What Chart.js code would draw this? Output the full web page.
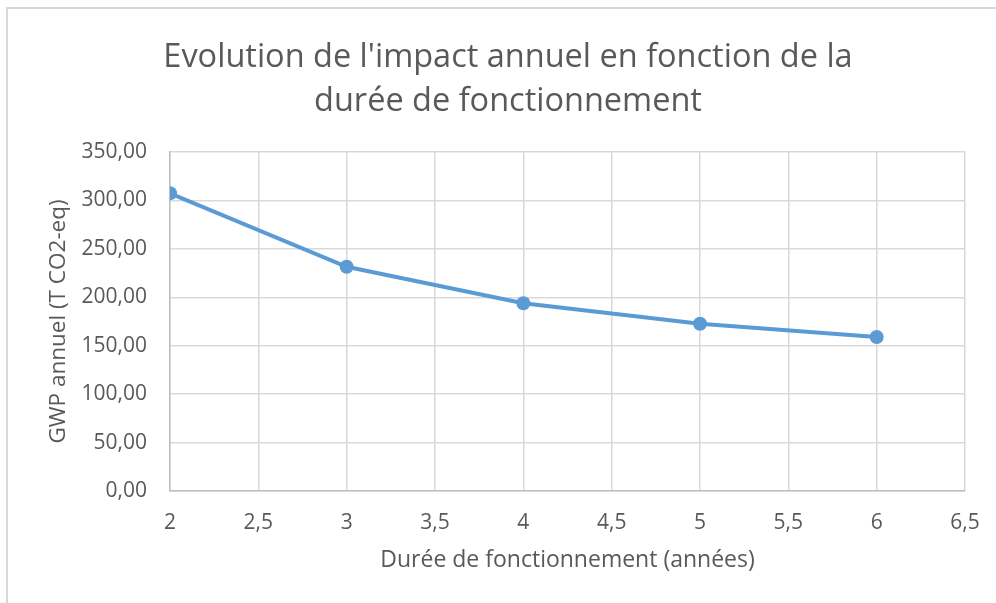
<!DOCTYPE html>
<html>
<head>
<meta charset="utf-8">
<script src="https://cdn.jsdelivr.net/npm/chart.js@4"></script>
<style>
  html, body { margin: 0; padding: 0; background: #fff; overflow: hidden; }
  #wrap { position: relative; width: 996px; height: 603px; }
  #frame { position: absolute; left: 6px; top: 7px; width: 1000px; height: 610px; border: 2px solid #D9D9D9; box-sizing: border-box; }
  #gwpChart { position: absolute; left: 0; top: 0; }
</style>
</head>
<body>
<div id="wrap">
  <div id="frame"></div>
  <canvas id="gwpChart" width="996" height="603"></canvas>
</div>
<script>
let dureeAnnees = [2, 3, 4, 5, 6]
let gwpAnnuel = [307.3, 231.5, 193.8, 172.6, 159.0]

let textColor = '#595959'
let gridColor = '#D9D9D9'
let fontFamily = "'Open Sans', sans-serif"

let points = dureeAnnees.map((d, i) => ({ x: d, y: gwpAnnuel[i] }))

let gwpChart = new Chart(document.querySelector('#gwpChart'), {
  type: 'line',
  data: {
    datasets: [{
      label: 'GWP annuel',
      data: points,
      borderColor: '#5B9BD5',
      backgroundColor: '#5B9BD5',
      borderWidth: 4,
      pointRadius: 7,
      pointBorderWidth: 0,
      tension: 0
    }]
  },
  options: {
    responsive: false,
    animation: false,
    layout: {
      padding: {
        top: 0,
        left: 51,
        right: 31,
        bottom: 0
      }
    },
    scales: {
      x: {
        type: 'linear',
        min: 2,
        max: 6.5,
        afterFit: function (scale) {
          scale.height = 112
          scale.paddingRight = 0 // "6,5" fits inside the right padding
        },
        border: {
          color: '#BFBFBF',
          width: 1.5
        },
        grid: {
          color: gridColor,
          lineWidth: 1.5,
          drawTicks: false
        },
        ticks: {
          stepSize: 0.5,
          padding: 19,
          color: textColor,
          font: { family: fontFamily, size: 21 },
          callback: function (value) {
            return String(value).replace('.', ',')
          }
        },
        title: {
          display: true,
          text: 'Durée de fonctionnement (années)',
          color: textColor,
          font: { family: fontFamily, size: 23 },
          padding: { top: 0, bottom: 28.5 }
        }
      },
      y: {
        min: 0,
        max: 350,
        afterFit: function (scale) {
          scale.width = 119
        },
        border: {
          color: '#BFBFBF',
          width: 1.5
        },
        grid: {
          color: gridColor,
          lineWidth: 1.5,
          drawTicks: false
        },
        ticks: {
          stepSize: 50,
          padding: 23,
          color: textColor,
          font: { family: fontFamily, size: 21 },
          callback: function (value) {
            return value.toFixed(2).replace('.', ',')
          }
        },
        title: {
          display: true,
          text: 'GWP annuel (T CO2-eq)',
          color: textColor,
          font: { family: fontFamily, size: 22.5, lineHeight: 0.7 },
          padding: { top: 0, bottom: 0 }
        }
      }
    },
    plugins: {
      legend: {
        display: false
      },
      tooltip: {
        enabled: false
      },
      title: {
        display: true,
        text: ["Evolution de l'impact annuel en fonction de la", 'durée de fonctionnement'],
        color: textColor,
        font: { family: fontFamily, size: 32.5, weight: 'normal', lineHeight: 1.33 },
        padding: { top: 36.5, bottom: 29 }
      }
    }
  }
})
</script>
</body>
</html>
